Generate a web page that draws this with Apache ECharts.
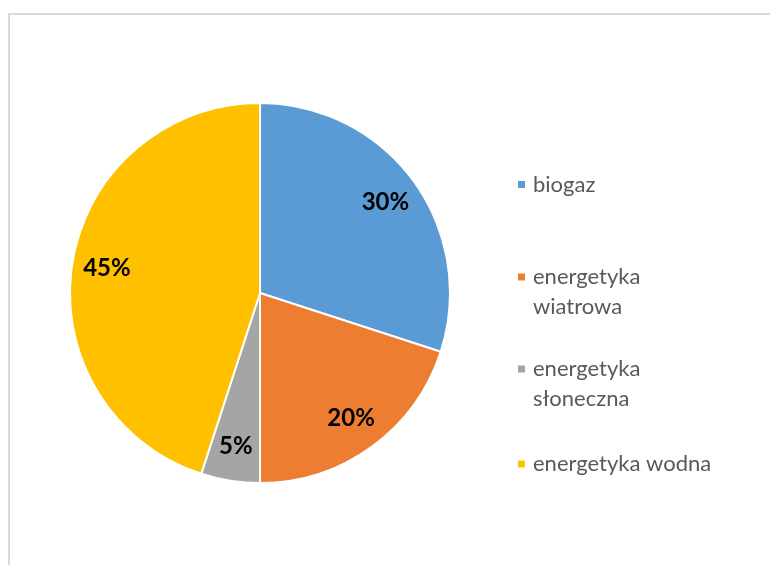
<!DOCTYPE html>
<html>
<head>
<meta charset="utf-8">
<script src="https://cdn.jsdelivr.net/npm/echarts@6/dist/echarts.min.js"></script>
<style>
html,body{margin:0;padding:0;background:#fff;}
#chart{width:770px;height:565px;}
</style>
</head>
<body>
<div id="chart"></div>
<script>
const categories = ['biogaz', 'energetyka wiatrowa', 'energetyka słoneczna', 'energetyka wodna'];
const values = [30, 20, 5, 45];
const legendLabels = ['biogaz', '\nenergetyka\nwiatrowa', '\nenergetyka\nsłoneczna', 'energetyka wodna'];
const colors = ['#5B9BD5', '#ED7D31', '#A5A5A5', '#FFC000'];

const pieData = categories.map((c, i) => ({ name: c, value: values[i], itemStyle: { color: colors[i] } }));
const labelData = categories.map((c, i) => ({ name: c, value: values[i] }));

const legendTops = [169.5, 232, 324, 449];
const legends = categories.map((c, i) => ({
  show: true,
  orient: 'vertical',
  left: 516,
  top: legendTops[i],
  padding: 0,
  itemWidth: 9,
  itemHeight: 9,
  itemGap: 7,
  icon: 'rect',
  data: [c],
  formatter: () => legendLabels[i],
  selectedMode: false,
  textStyle: { fontFamily: 'Lato', fontSize: 22, color: '#595959', lineHeight: 30, padding: [0, 0, 0, 2] }
}));

const chart = echarts.init(document.getElementById('chart'), null, { renderer: 'canvas' });
chart.setOption({
  animation: false,
  backgroundColor: '#fff',
  graphic: [{
    type: 'rect',
    shape: { x: 9, y: 14, width: 900, height: 700 },
    style: { fill: 'none', stroke: '#d9d9d9', lineWidth: 2 },
    silent: true
  }],
  legend: legends,
  series: [{
    type: 'pie',
    center: [260, 293],
    radius: [0, 190],
    startAngle: 90,
    clockwise: true,
    label: { show: false },
    labelLine: { show: false },
    itemStyle: { borderColor: '#fff', borderWidth: 2 },
    data: pieData,
    silent: true
  }, {
    type: 'pie',
    center: [260, 293],
    radius: [114, 190],
    startAngle: 90,
    clockwise: true,
    silent: true,
    legendHoverLink: false,
    itemStyle: { color: 'rgba(0,0,0,0)', borderWidth: 0 },
    label: {
      show: true,
      position: 'inside',
      formatter: '{c}%',
      fontFamily: 'Lato',
      fontWeight: 'bold',
      fontSize: 24,
      color: '#000'
    },
    labelLine: { show: false },
    data: labelData
  }]
});
</script>
</body>
</html>
